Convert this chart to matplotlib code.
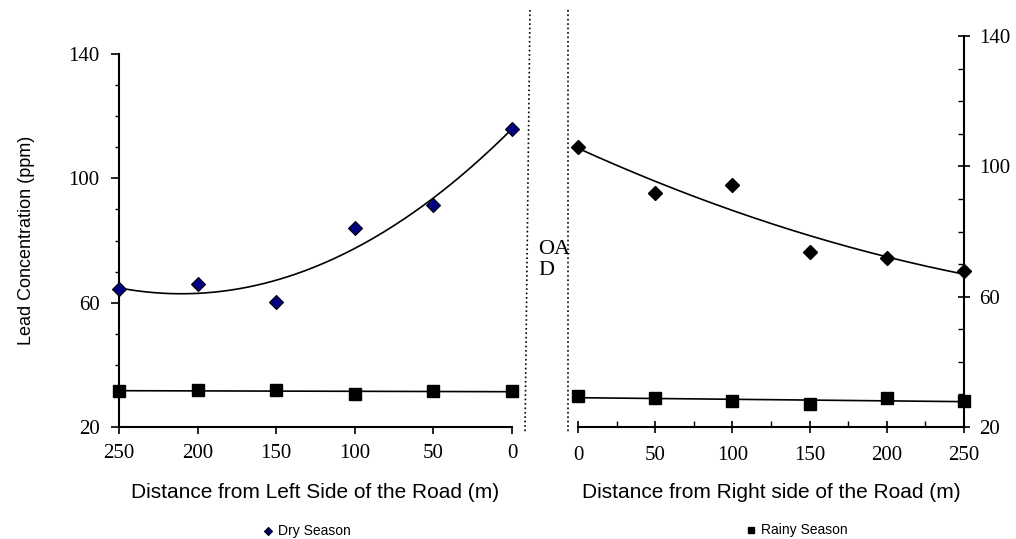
import numpy as np
import matplotlib.pyplot as plt
from matplotlib.lines import Line2D

# distances (m)
dist = [250, 200, 150, 100, 50, 0]
dist_r = [0, 50, 100, 150, 200, 250]

# lead concentration (ppm), left side of road
dry_left = [64.4, 66.0, 60.2, 84.0, 91.4, 116.0]
rainy_left = [31.6, 31.9, 31.9, 30.5, 31.6, 31.6]

# right side of road
dry_right = [105.9, 91.8, 94.2, 73.7, 71.8, 67.9]
rainy_right = [29.5, 28.9, 28.0, 27.0, 28.9, 28.0]

serif = 'Liberation Serif'
sans = 'Liberation Sans'

fig = plt.figure(figsize=(10.16, 5.39), dpi=100)

axL = fig.add_axes([0.1171, 0.2078, 0.3868, 0.692])
axR = fig.add_axes([0.5689, 0.2078, 0.3799, 0.7254])

xx = np.linspace(0, 250, 200)

# left panel
cL = np.polyfit(dist, dry_left, 2)
axL.plot(xx, np.polyval(cL, xx), color='black', lw=1.2, zorder=2)
lL = np.polyfit(dist, rainy_left, 1)
axL.plot(xx, np.polyval(lL, xx), color='black', lw=1.2, zorder=2)
hd = axL.plot(dist, dry_left, 'D', color='#000080', mec='black', mew=0.8,
              ms=7.5, ls='none', clip_on=False, zorder=3)[0]
axL.plot(dist, rainy_left, 's', color='black', ms=8, ls='none',
         clip_on=False, zorder=3)
axL.set_xlim(250, 0)
axL.set_ylim(20, 140)
axL.set_yticks([20, 60, 100, 140])
axL.set_yticks(np.arange(20, 141, 10), minor=True)
axL.set_xticks(dist)
axL.spines['top'].set_visible(False)
axL.spines['right'].set_visible(False)
axL.spines['left'].set_linewidth(1.5)
axL.spines['bottom'].set_linewidth(1.5)
axL.tick_params(axis='y', which='major', direction='out', length=6,
                width=1.2, labelsize=15, pad=8)
axL.tick_params(axis='x', which='major', direction='out', length=5,
                width=1.2, labelsize=15, pad=7)
axL.tick_params(axis='y', which='minor', direction='out', length=3, width=1)
for t in axL.get_xticklabels() + axL.get_yticklabels():
    t.set_fontfamily(serif)
axL.set_xlabel('Distance from Left Side of the Road (m)', fontfamily=sans,
               fontsize=15, labelpad=15)
axL.set_ylabel('Lead Concentration (ppm)', fontfamily=sans, fontsize=13,
               labelpad=24)

# right panel
cR = np.polyfit(dist_r, dry_right, 2)
axR.plot(xx, np.polyval(cR, xx), color='black', lw=1.2, zorder=2)
lR = np.polyfit(dist_r, rainy_right, 1)
axR.plot(xx, np.polyval(lR, xx), color='black', lw=1.2, zorder=2)
axR.plot(dist_r, dry_right, 'D', color='black', ms=7.5, ls='none',
         clip_on=False, zorder=3)
hr = axR.plot(dist_r, rainy_right, 's', color='black', ms=8, ls='none',
              clip_on=False, zorder=3)[0]
axR.set_xlim(0, 250)
axR.set_ylim(20, 140)
axR.set_xticks(dist_r)
axR.set_xticks(np.arange(0, 251, 25), minor=True)
axR.set_yticks([20, 60, 100, 140])
axR.set_yticks(np.arange(20, 141, 10), minor=True)
axR.yaxis.tick_right()
axR.spines['top'].set_visible(False)
axR.spines['left'].set_visible(False)
axR.spines['right'].set_linewidth(1.5)
axR.spines['bottom'].set_linewidth(1.5)
axR.tick_params(axis='y', which='major', direction='inout', length=8,
                width=1.2, labelsize=15, pad=7)
axR.tick_params(axis='x', which='major', direction='inout', length=8,
                width=1.2, labelsize=15, pad=10)
axR.tick_params(axis='both', which='minor', direction='in', length=4, width=1)
for t in axR.get_xticklabels() + axR.get_yticklabels():
    t.set_fontfamily(serif)
axR.set_xlabel('Distance from Right side of the Road (m)', fontfamily=sans,
               fontsize=15, labelpad=13)

# road boundaries
fig.add_artist(Line2D([530 / 1016, 525 / 1016], [1 - 10 / 539, 1 - 433 / 539],
                      color='black', ls=':', lw=1.2))
fig.add_artist(Line2D([568 / 1016, 568 / 1016], [1 - 10 / 539, 1 - 433 / 539],
                      color='black', ls=':', lw=1.2))
fig.text(538 / 1016, 1 - 260 / 539, 'OA\nD', fontfamily=serif, fontsize=16,
         ha='left', va='center', linespacing=1.2)

# legends
fig.legend([hd], ['Dry Season'], loc='center', bbox_to_anchor=(0.302, 0.014),
           frameon=False, prop={'family': sans, 'size': 10}, markerscale=0.6,
           handlelength=0.8, handletextpad=0.3)
fig.legend([hr], ['Rainy Season'], loc='center', bbox_to_anchor=(0.784, 0.016),
           frameon=False, prop={'family': sans, 'size': 10}, markerscale=0.6,
           handlelength=0.8, handletextpad=0.3)

plt.savefig('out.png', dpi=100)
